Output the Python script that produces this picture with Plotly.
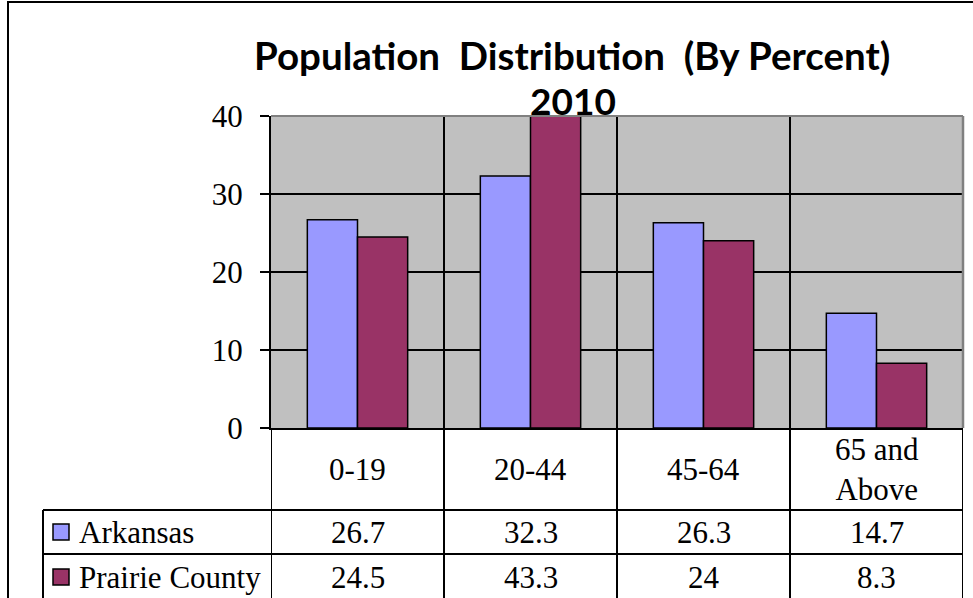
import plotly.graph_objects as go

# Age groups and population shares (percent), 2010
categories = ["0-19", "20-44", "45-64", "65 and Above"]
category_labels = ["0-19", "20-44", "45-64", "65 and<br>Above"]
arkansas = [26.7, 32.3, 26.3, 14.7]
prairie_county = [24.5, 43.3, 24, 8.3]
series_names = ["Arkansas", "Prairie County"]
series_colors = ["#9999FF", "#993366"]
y_ticks = [0, 10, 20, 30, 40]

title_line1 = "Population\u00a0 Distribution\u00a0 (By Percent)"
title_line2 = "2010"

# Page geometry (pixels)
W, H = 973, 598
L, R, T, B = 271, 10, 116, 170
PW = W - L - R
PH = H - T - B


def px_x(x):
    return (x - L) / PW


def px_y(y):
    return (H - B - y) / PH


# Data-table row boundaries below the plot (pixels from top)
row_edges = [H - B, 510, 554, 600]
row_mid = [(a + b) / 2 for a, b in zip(row_edges[:-1], row_edges[1:])]

SANS = "Lato"
SERIF = "Liberation Serif"
TXT = 31

fig = go.Figure()
series_values = [arkansas, prairie_county]
for name, vals, col in zip(series_names, series_values, series_colors):
    fig.add_bar(
        x=categories, y=vals, name=name, showlegend=False,
        marker=dict(color=col, line=dict(color="black", width=1.5)),
    )

shapes = []
# plot border (top and right) in grey
shapes.append(dict(type="line", xref="paper", yref="paper", x0=0, x1=1, y0=1, y1=1,
                   line=dict(color="#808080", width=2)))
shapes.append(dict(type="line", xref="paper", yref="paper", x0=1, x1=1, y0=0, y1=1,
                   line=dict(color="#808080", width=2.5)))
# data table: vertical column rules following the category boundaries
for i in range(len(categories) + 1):
    shapes.append(dict(type="line", xref="x", yref="paper", x0=i - 0.5, x1=i - 0.5,
                       y0=px_y(row_edges[-1]), y1=0, line=dict(color="black", width=2)))
# horizontal rules for the series rows
for yy in row_edges[1:3]:
    shapes.append(dict(type="line", xref="paper", yref="paper", x0=px_x(43), x1=1,
                       y0=px_y(yy), y1=px_y(yy), line=dict(color="black", width=2)))
# left rule of the series-name column
shapes.append(dict(type="line", xref="paper", yref="paper", x0=px_x(43), x1=px_x(43),
                   y0=px_y(row_edges[-1]), y1=px_y(row_edges[1]), line=dict(color="black", width=2)))
# legend keys
for k, col in enumerate(series_colors):
    yc = row_mid[k + 1]
    shapes.append(dict(type="rect", xref="paper", yref="paper",
                       x0=px_x(53), x1=px_x(69), y0=px_y(yc + 8), y1=px_y(yc - 8),
                       fillcolor=col, line=dict(color="black", width=1.5)))
# chart-area frame
shapes.append(dict(type="rect", xref="paper", yref="paper",
                   x0=px_x(8), x1=px_x(1010), y0=px_y(650), y1=px_y(2),
                   line=dict(color="black", width=2)))

annotations = []
annotations.append(dict(text=title_line1, x=px_x(572), y=px_y(55), xref="paper", yref="paper",
                        showarrow=False, xanchor="center", yanchor="middle",
                        font=dict(family=SANS, size=38.5, color="black", weight="bold")))
annotations.append(dict(text=title_line2, x=px_x(573), y=px_y(101), xref="paper", yref="paper",
                        showarrow=False, xanchor="center", yanchor="middle",
                        font=dict(family=SANS, size=37, color="black", weight="bold")))
# category header row
for cat, lab in zip(categories, category_labels):
    annotations.append(dict(text=lab, x=cat, xref="x", y=px_y(row_mid[0]), yref="paper",
                            showarrow=False, xanchor="center", yanchor="middle",
                            font=dict(family=SERIF, size=TXT, color="black")))
# series rows
for k, (name, vals) in enumerate(zip(series_names, series_values)):
    yc = px_y(row_mid[k + 1])
    annotations.append(dict(text=name, x=px_x(77), xref="paper", y=yc, yref="paper",
                            showarrow=False, xanchor="left", yanchor="middle",
                            font=dict(family=SERIF, size=TXT, color="black")))
    for cat, v in zip(categories, vals):
        annotations.append(dict(text=f"{v:g}", x=cat, xref="x", y=yc, yref="paper",
                                showarrow=False, xanchor="center", yanchor="middle",
                                font=dict(family=SERIF, size=TXT, color="black")))

fig.update_layout(
    width=W, height=H, autosize=False,
    margin=dict(l=L, r=R, t=T, b=B, pad=0),
    paper_bgcolor="white", plot_bgcolor="#C0C0C0",
    barmode="group", bargap=0.42, bargroupgap=0,
    font=dict(family=SERIF, size=TXT, color="black"),
    xaxis=dict(type="category", range=[-0.5, 3.5], tickson="boundaries",
               showgrid=True, gridcolor="black", gridwidth=1.5,
               showticklabels=False, ticks="", showline=True,
               linecolor="black", linewidth=2, zeroline=False, fixedrange=True),
    yaxis=dict(range=[0, 40], tickvals=y_ticks, ticks="outside", ticklen=9,
               tickwidth=1.5, tickcolor="black", showgrid=True, gridcolor="black",
               gridwidth=1.5, showline=True, linecolor="black", linewidth=2,
               zeroline=False, ticklabelstandoff=11, fixedrange=True,
               tickfont=dict(family=SERIF, size=TXT, color="black")),
    shapes=shapes, annotations=annotations,
)

fig.write_html("out.html")
